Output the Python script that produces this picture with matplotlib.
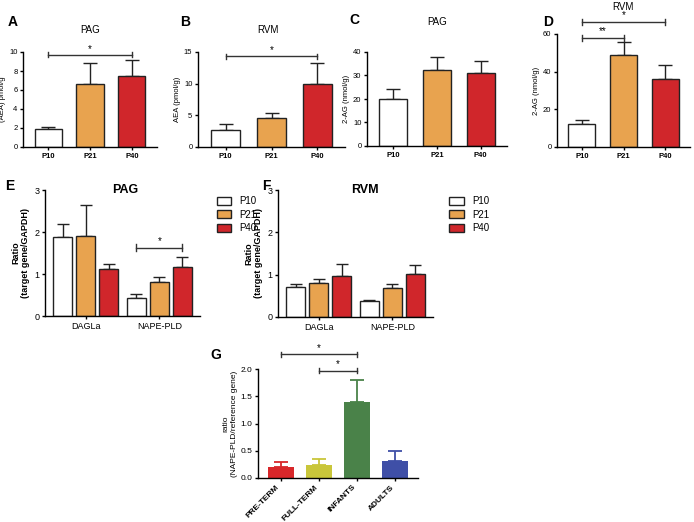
import matplotlib
matplotlib.use("Agg")
import matplotlib.pyplot as plt
import numpy as np

plt.rcParams['font.family'] = ['Liberation Sans', 'DejaVu Sans']

groups = ["P10", "P21", "P40"]
colors3 = ["#FFFFFF", "#E8A34F", "#D0262B"]

a_vals = [1.9, 6.6, 7.5]; a_err = [0.25, 2.2, 1.7]
b_vals = [2.7, 4.6, 9.9]; b_err = [0.9, 0.8, 3.4]
c_vals = [19.8, 32.5, 31.2]; c_err = [4.6, 5.2, 4.8]
d_vals = [12.2, 48.7, 36.0]; d_err = [2.2, 6.8, 7.7]

genes = ["DAGLa", "NAPE-PLD"]
e_vals = [[1.88, 0.42], [1.91, 0.80], [1.12, 1.16]]
e_err = [[0.30, 0.10], [0.73, 0.13], [0.13, 0.24]]
f_vals = [[0.71, 0.38], [0.80, 0.69], [0.97, 1.01]]
f_err = [[0.07, 0.03], [0.10, 0.10], [0.28, 0.21]]

g_cats = ["PRE-TERM", "FULL-TERM", "INFANTS", "ADULTS"]
g_vals = [0.20, 0.23, 1.39, 0.31]
g_err = [0.10, 0.11, 0.41, 0.19]
g_colors = ["#D8272A", "#C9C63A", "#4A8249", "#3F4FA7"]

W, H = 694, 522
fig = plt.figure(figsize=(W/100, H/100), dpi=100)

def ax_px(x0, x1, yt, yb):
    return fig.add_axes([x0/W, 1-yb/H, (x1-x0)/W, (yb-yt)/H])

def style(ax, fs=5.5):
    for s in ['top', 'right']:
        ax.spines[s].set_visible(False)
    for s in ['left', 'bottom']:
        ax.spines[s].set_linewidth(1.0)
    ax.tick_params(labelsize=fs, width=1.0, length=2.5, pad=1.5)

def sig(ax, x0, x1, y, txt, fs=7):
    ax.plot([x0, x1], [y, y], color='#333', lw=1.0, clip_on=False)
    dy = (ax.get_ylim()[1]) * 0.025
    for x in (x0, x1):
        ax.plot([x, x], [y-dy, y+dy], color='#333', lw=1.0, clip_on=False)
    ax.text((x0+x1)/2, y+dy*0.5, txt, ha='center', va='bottom', fontsize=fs)

def ftitle(txt, x, y, fs=7, bold=False):
    fig.text(x/W, 1-y/H, txt, fontsize=fs, ha='center', va='center',
             fontweight='bold' if bold else 'normal')

def simple(box, vals, err, ylim, ticks, ylabel):
    ax = ax_px(*box)
    x = np.arange(3)
    ax.bar(x, vals, 0.65, color=colors3, edgecolor='#222', lw=1.0, zorder=2)
    ax.errorbar(x, vals, yerr=[np.zeros(3), err], fmt='none', ecolor='#222',
                elinewidth=1.0, capsize=5, capthick=1.0, zorder=1)
    ax.set_xlim(-0.6, 2.6); ax.set_ylim(*ylim); ax.set_yticks(ticks)
    ax.set_xticks(x); ax.set_xticklabels(groups, fontweight='bold')
    ax.set_ylabel(ylabel, fontsize=5.5, labelpad=2)
    style(ax)
    return ax

axA = simple((23, 157, 52, 147), a_vals, a_err, (0, 10), [0, 2, 4, 6, 8, 10], "(AEA) pmol/g")
sig(axA, 0, 2, 9.7, "*")
ftitle("PAG", 90, 30)
axB = simple((198, 345, 52, 147), b_vals, b_err, (0, 15), [0, 5, 10, 15], "AEA (pmol/g)")
sig(axB, 0, 2, 14.3, "*")
ftitle("RVM", 268, 30)
axC = simple((367, 507, 52, 146), c_vals, c_err, (0, 40), [0, 10, 20, 30, 40], "2-AG (nmol/g)")
ftitle("PAG", 437, 22)
axD = simple((557, 690, 34, 147), d_vals, d_err, (0, 60), [0, 20, 40, 60], "2-AG (nmol/g)")
sig(axD, 0, 1, 58, "**")
sig(axD, 0, 2, 66.5, "*")
ftitle("RVM", 623, 7)

def grouped(box, vals, err, title, tx):
    ax = ax_px(*box)
    w = 0.26
    xc = np.arange(2)
    for i in range(3):
        xs = xc + (i-1)*w*1.2
        ax.bar(xs, vals[i], w, color=colors3[i], edgecolor='#222', lw=1.0, zorder=2, label=groups[i])
        ax.errorbar(xs, vals[i], yerr=[np.zeros(2), err[i]], fmt='none', ecolor='#222',
                    elinewidth=1.0, capsize=4, capthick=1.0, zorder=1)
    ax.set_xlim(-0.55, 1.55); ax.set_ylim(0, 3); ax.set_yticks([0, 1, 2, 3])
    ax.set_xticks(xc); ax.set_xticklabels(genes)
    ax.set_ylabel("Ratio\n(target gene/GAPDH)", fontsize=6.5, fontweight='bold', labelpad=3)
    style(ax, 6.5)
    ftitle(title, tx, 190, fs=9, bold=True)
    ax.legend(loc='upper left', bbox_to_anchor=(1.05, 1.02), frameon=False, fontsize=7,
              handlelength=1.5, handleheight=0.9, labelspacing=0.35)
    return ax

axE = grouped((45, 200, 190, 316), e_vals, e_err, "PAG", 125)
sig(axE, 1-0.26*1.2, 1+0.26*1.2, 1.63, "*")
grouped((278, 433, 190, 317), f_vals, f_err, "RVM", 365)

axG = ax_px(258, 418, 369, 478)
xg = np.arange(4)
axG.bar(xg, g_vals, 0.7, color=g_colors, zorder=2)
for i in range(4):
    axG.errorbar(xg[i], g_vals[i], yerr=[[0], [g_err[i]]], fmt='none', ecolor=g_colors[i],
                 elinewidth=1.3, capsize=5, capthick=1.3, zorder=1)
axG.set_xlim(-0.6, 3.6); axG.set_ylim(0, 2.0); axG.set_yticks([0, 0.5, 1.0, 1.5, 2.0])
axG.set_yticklabels(["0.0", "0.5", "1.0", "1.5", "2.0"])
axG.set_xticks(xg); axG.set_xticklabels(g_cats, rotation=45, ha='right', fontweight='bold')
axG.set_ylabel("ratio\n(NAPE-PLD/reference gene)", fontsize=6, labelpad=2)
style(axG, 6)
sig(axG, 0, 2, 2.27, "*")
sig(axG, 1, 2, 1.97, "*")

for lab, x, y in [("A", 8, 22), ("B", 180, 22), ("C", 349, 20), ("D", 543, 22),
                  ("E", 5, 186), ("F", 262, 186), ("G", 210, 355)]:
    fig.text(x/W, 1-y/H, lab, fontsize=10, fontweight='bold', va='center')

fig.savefig("out.png", dpi=100, facecolor='white')
